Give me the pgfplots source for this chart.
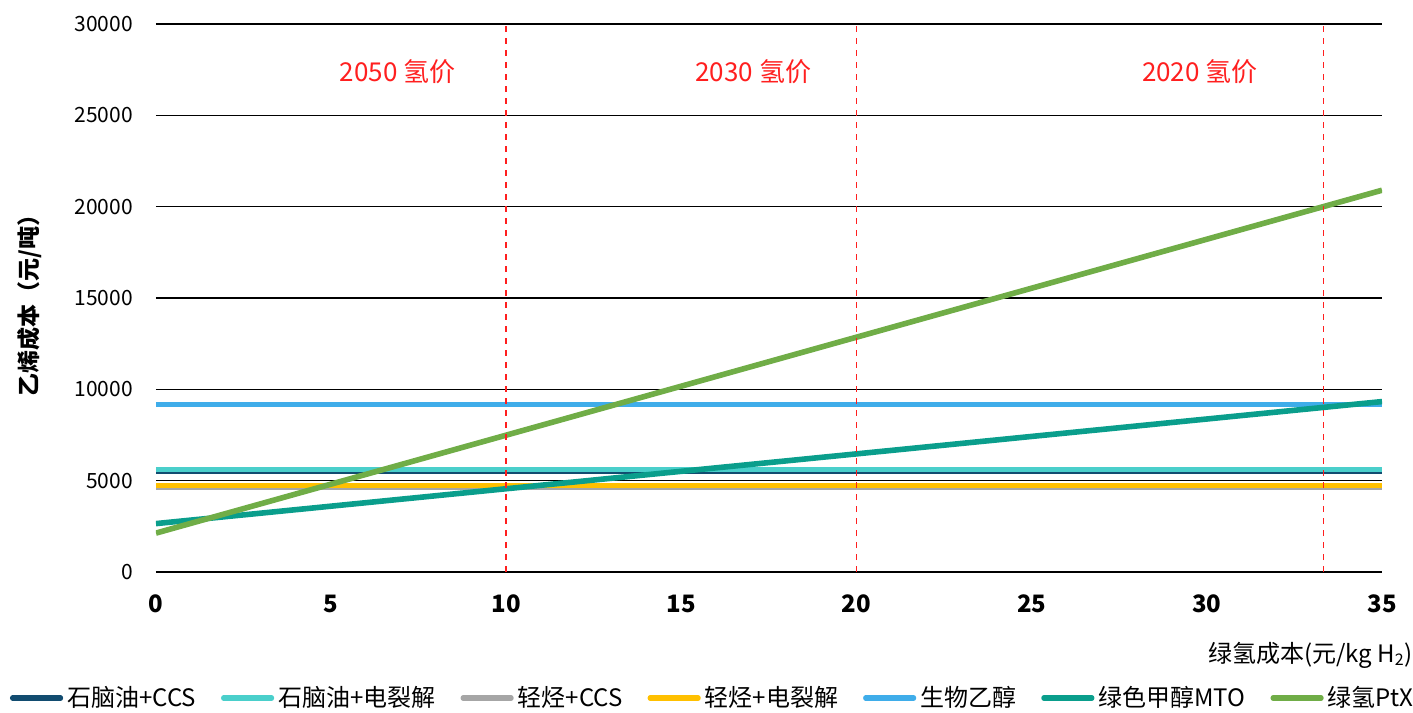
\documentclass[border=0pt]{standalone}
\usepackage{fontspec}
\setmainfont{Noto Sans CJK SC}
\usepackage{pgfplots}
\pgfplotsset{compat=1.18}
\usetikzlibrary{calc}

\definecolor{cNavy}{HTML}{124C70}
\definecolor{cTurq}{HTML}{4ACFCB}
\definecolor{cGray}{HTML}{A6A6A6}
\definecolor{cYel}{HTML}{FFC000}
\definecolor{cBlue}{HTML}{3FADEA}
\definecolor{cTeal}{HTML}{0A9E8C}
\definecolor{cGreen}{HTML}{70AD47}
\definecolor{cRed}{HTML}{FF1F1F}

\begin{document}
\begin{tikzpicture}
  \begin{axis}[name=ax,
      scale only axis, width=613pt, height=274pt,
      xmin=0, xmax=35, ymin=0, ymax=30000,
      xtick={0,5,...,35}, ytick={0,5000,...,30000},
      scaled ticks=false,
      /pgf/number format/1000 sep={},
      /pgf/number format/assume math mode=true,
      axis line style={draw=none}, tick style={draw=none},
      ymajorgrids, major grid style={black, line width=0.6pt},
      yticklabel style={font=\fontsize{10.5}{12}\selectfont, xshift=-8pt},
      xticklabel style={font=\fontsize{12}{14}\selectfont\bfseries, yshift=-8pt},
      xlabel={绿氢成本(元/kg H\textsubscript{2})},
      xlabel style={at={(axis description cs:1.031,0)}, anchor=east, yshift=-41.5pt, font=\fontsize{12}{14}\selectfont},
      ylabel={乙烯成本（元/吨）},
      ylabel style={at={(axis description cs:-0.103,0.496)}, anchor=center, font=\fontsize{11.5}{13}\selectfont\bfseries},
      legend columns=-1,
      legend style={at={(0.455,-0.23)}, anchor=center, draw=none, fill=none,
        font=\fontsize{12}{14}\selectfont,
        /tikz/every even column/.append style={column sep=10.5pt}},
      legend image code/.code={\draw[line width=2.6pt, line cap=round, #1] (0pt,0pt) -- (24pt,0pt);},
    ]
    \addplot[cNavy, line width=2.6pt] coordinates {(0,5500) (35,5500)};
    \addlegendentry{石脑油+CCS}
    \addplot[cTurq, line width=2.6pt] coordinates {(0,5590) (35,5590)};
    \addlegendentry{石脑油+电裂解}
    \addplot[cGray, line width=2.6pt] coordinates {(0,4640) (35,4640)};
    \addlegendentry{轻烃+CCS}
    \addplot[cYel, line width=2.6pt] coordinates {(0,4730) (35,4730)};
    \addlegendentry{轻烃+电裂解}
    \addplot[cBlue, line width=2.6pt] coordinates {(0,9180) (35,9180)};
    \addlegendentry{生物乙醇}
    \addplot[cTeal, line width=2.8pt] coordinates {(0,2650) (35,9330)};
    \addlegendentry{绿色甲醇MTO}
    \addplot[cGreen, line width=2.8pt] coordinates {(0,2130) (35,20900)};
    \addlegendentry{绿氢PtX}
    \addplot[cRed, dashed, line width=0.8pt, forget plot] coordinates {(10,0) (10,30000)};
    \addplot[cRed, dashed, line width=0.8pt, forget plot] coordinates {(20,0) (20,30000)};
    \addplot[cRed, dashed, line width=0.8pt, forget plot] coordinates {(33.33,0) (33.33,30000)};
    \node[text=cRed, font=\fontsize{13}{15}\selectfont] at (axis cs:6.9,27400) {2050 氢价};
    \node[text=cRed, font=\fontsize{13}{15}\selectfont] at (axis cs:17.05,27400) {2030 氢价};
    \node[text=cRed, font=\fontsize{13}{15}\selectfont] at (axis cs:29.8,27400) {2020 氢价};
  \end{axis}
  \pgfresetboundingbox
  \path[use as bounding box] ($(ax.south west)+(-78pt,-70pt)$) rectangle ($(ax.north east)+(15.5pt,12pt)$);
\end{tikzpicture}
\end{document}
